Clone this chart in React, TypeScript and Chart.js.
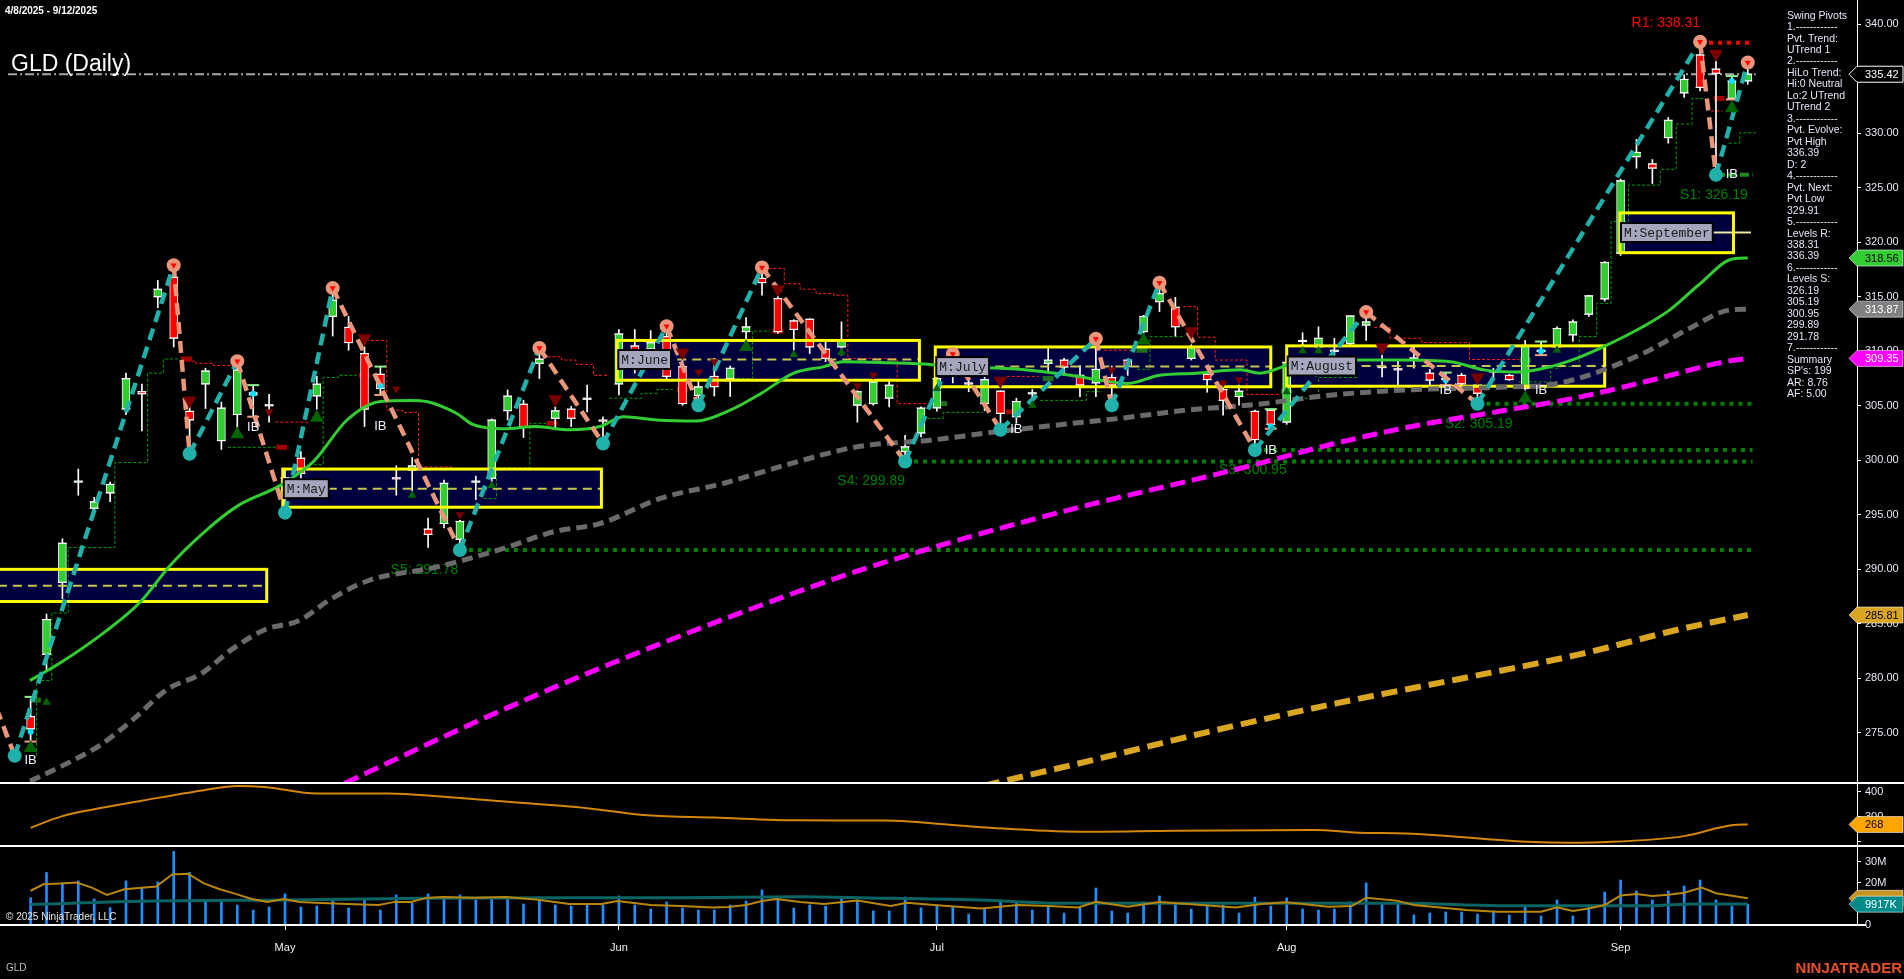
import React, { useEffect, useRef } from 'react';
import { Chart, registerables } from 'chart.js';

Chart.register(...registerables);

const FONT = 'Arial, "Liberation Sans", sans-serif';
const MONO = '"Liberation Mono", "DejaVu Sans Mono", monospace';

// ---------- layout ----------
const W = 1904, H = 979;
const PRICE_H = 783, IND_H = 63, VOL_H = 79, XAXIS_H = 54, YAXIS_W = 47;
const X_MIN = -1.925, X_MAX = 114.87;

// ---------- text ----------
const rangeText = '4/8/2025 - 9/12/2025';
const chartTitle = 'GLD (Daily)';
const monthTickIdx = [16, 37, 57, 79, 100];
const monthTickLabels = ['May', 'Jun', 'Jul', 'Aug', 'Sep'];

// ---------- daily bars (4/8/2025 .. 9/12/2025) ----------
const opens = [276.5, 282.2, 288.8, 298.0, 295.6, 297.0, 304.7, 306.3, 315.0, 316.8,
  304.5, 307.0, 301.8, 304.2, 306.2, 305.1, 297.2, 300.2, 305.9, 313.2,
  312.2, 309.8, 307.9, 298.4, 299.1, 293.7, 294.2, 292.75, 298.0, 298.35,
  304.55, 305.15, 308.9, 303.85, 304.7, 305.6, 303.7, 307.0, 310.5, 310.2,
  311.35, 308.6, 305.95, 307.7, 307.5, 311.8, 316.7, 314.85, 312.8, 312.95,
  310.2, 310.4, 305.05, 305.2, 305.7, 300.8, 302.5, 304.8, 309.0, 307.1,
  305.2, 306.35, 304.0, 306.1, 308.9, 309.2, 307.8, 307.1, 307.6, 309.2,
  311.8, 314.55, 314.05, 309.35, 307.9, 306.5, 305.85, 304.5, 304.6, 303.5,
  310.9, 310.4, 310.0, 310.7, 312.4, 308.6, 308.4, 309.3, 308.0, 307.5,
  307.8, 306.9, 308.1, 307.8, 306.6, 310.1, 310.4, 311.5, 313.4, 314.8,
  319.0, 327.85, 327.2, 329.6, 333.7, 337.2, 335.9, 333.2, 334.8];
const highs = [278.1, 285.9, 292.8, 299.2, 296.6, 298.0, 308.0, 307.0, 316.5, 317.9,
  305.0, 308.45, 305.35, 309.1, 306.9, 306.05, 299.1, 300.8, 307.7, 315.8,
  313.2, 310.4, 308.6, 299.5, 300.25, 294.7, 298.2, 294.5, 298.55, 303.8,
  306.45, 305.5, 310.3, 304.9, 304.95, 306.9, 304.0, 312.0, 312.0, 311.9,
  312.3, 310.1, 307.4, 309.35, 308.65, 313.1, 317.7, 315.6, 312.9, 313.0,
  310.9, 312.7, 306.4, 307.35, 307.35, 302.3, 304.9, 308.2, 309.75, 307.5,
  307.8, 306.4, 305.7, 306.5, 310.4, 309.35, 308.7, 311.15, 308.65, 309.3,
  313.3, 316.3, 314.95, 310.6, 308.0, 306.6, 306.9, 304.6, 304.7, 309.5,
  311.7, 312.25, 311.2, 313.25, 313.6, 309.65, 309.2, 310.4, 308.35, 308.05,
  308.0, 307.0, 308.45, 307.9, 311.0, 310.9, 312.25, 312.9, 315.15, 318.25,
  325.8, 329.45, 327.6, 331.45, 335.35, 338.39, 336.6, 335.25, 336.39];
const lows = [274.25, 280.8, 287.3, 296.8, 295.0, 296.2, 304.2, 302.7, 314.0, 310.4,
  300.6, 304.75, 301.0, 303.0, 304.0, 303.5, 295.2, 297.3, 304.7, 311.4,
  310.1, 303.1, 306.0, 296.8, 297.2, 292.0, 293.8, 291.78, 296.4, 298.0,
  303.7, 302.1, 307.5, 302.8, 303.1, 304.45, 301.55, 306.0, 308.0, 309.6,
  307.5, 305.05, 305.05, 305.9, 305.85, 311.1, 315.15, 311.65, 310.1, 309.8,
  309.05, 309.65, 303.5, 305.05, 304.9, 299.89, 302.15, 304.5, 307.1, 306.3,
  304.55, 302.8, 303.4, 305.4, 308.0, 307.8, 305.85, 305.85, 305.05, 307.8,
  311.65, 313.65, 311.4, 309.2, 306.25, 304.15, 305.05, 300.95, 303.0, 303.3,
  310.4, 310.1, 309.5, 310.6, 311.0, 307.65, 306.9, 308.45, 306.6, 306.9,
  306.9, 305.19, 307.35, 307.35, 306.45, 309.65, 310.1, 310.9, 313.2, 314.6,
  318.8, 326.8, 325.4, 329.1, 333.3, 333.9, 326.19, 333.1, 334.5];
const closes = [275.35, 285.4, 292.4, 298.1, 296.2, 297.8, 307.5, 306.1, 315.7, 311.2,
  303.7, 308.2, 304.8, 308.3, 306.0, 305.0, 298.4, 298.8, 307.0, 314.7,
  310.8, 304.7, 306.6, 298.3, 299.5, 293.2, 297.9, 294.4, 298.1, 303.7,
  305.9, 303.1, 309.3, 304.55, 303.85, 305.7, 303.6, 311.6, 309.7, 310.8,
  307.7, 305.2, 306.75, 306.75, 308.45, 312.25, 316.3, 311.8, 312.0, 310.4,
  309.35, 311.0, 306.3, 307.2, 306.9, 301.25, 304.8, 307.5, 308.2, 307.0,
  307.4, 304.3, 305.4, 306.2, 309.2, 308.55, 306.9, 308.35, 306.9, 308.6,
  313.2, 315.3, 312.25, 310.35, 307.4, 305.5, 306.35, 301.9, 303.3, 309.0,
  311.0, 311.2, 310.1, 313.25, 312.7, 308.5, 308.3, 309.4, 307.35, 307.4,
  307.0, 306.15, 308.2, 307.4, 310.55, 310.0, 312.1, 312.7, 315.1, 318.15,
  325.65, 328.25, 326.8, 331.2, 334.95, 334.2, 335.5, 334.8, 335.42];
const volumesM = [13, 25, 20, 21, 12.4, 8.3, 21, 18, 20.5, 35,
  25, 11, 11, 9.5, 7.1, 8.6, 14.8, 8.6, 9, 11.4,
  8.1, 11.9, 7.1, 14.3, 10.5, 14.8, 13.3, 14.3, 11.9, 12.9,
  13.3, 10, 13.3, 9.5, 9, 9.5, 9.5, 13.8, 9.5, 7.6,
  11, 8.1, 7.1, 7.1, 9.5, 11.4, 16.7, 12.9, 8.1, 9.5,
  9, 12.9, 11.9, 6.7, 6.7, 13.3, 8.1, 9.5, 8.6, 5.2,
  7.6, 11.9, 11, 7.1, 9, 5.7, 8.1, 17.6, 6.7, 5.7,
  11, 13.8, 10.5, 7.6, 9.5, 9.5, 5.7, 13.3, 9, 12.9,
  7.6, 7.1, 7.6, 11, 20, 10.5, 10, 4.8, 5.7, 6.2,
  6.2, 5.2, 6.7, 4.8, 8.6, 4.3, 11.9, 4.3, 9.5, 15.7,
  21.4, 16.2, 11.9, 16.2, 18.6, 21.4, 11.9, 9, 9.9];

// ---------- moving averages, sampled [barIndex, value] ----------
const fastMa = [[-0.04, 279.8], [1.85, 281.4], [4.8, 284.4], [6.9, 287.0], [8.8, 290.4], [10.9, 293.4], [13, 295.8], [15.7, 297.7], [17.8, 299.9], [19.9, 303.7], [22, 305.4], [23.9, 305.5], [24.9, 305.4], [26.8, 304.3], [27.8, 303.3], [29.7, 302.9], [31.8, 303.1], [33.9, 302.8], [35.8, 303.1], [37.3, 304.0], [39.4, 303.7], [41.9, 303.6], [44, 304.6], [45.9, 306.1], [48, 308.0], [49.9, 308.6], [51.1, 309.05], [54, 308.95], [56.6, 308.8], [58, 308.6], [62.2, 308.35], [65.4, 307.8], [67.5, 307.3], [69, 307.05], [71, 307.8], [73.3, 308.0], [76.1, 308.3], [77.3, 308.0], [79.8, 309.05], [83, 309.2], [86.1, 309.2], [89.3, 309.05], [91.4, 308.3], [93.5, 308.1], [95.6, 308.6], [97.4, 309.45], [98.9, 310.4], [101.4, 312.25], [103.1, 313.8], [105, 316.2], [107.1, 318.5], [108, 318.56]];
const ma50 = [[-1.0, 269.9], [0.15, 270.7], [2.3, 272.2], [4.4, 273.9], [6.5, 276.3], [8.6, 279.0], [10.7, 280.4], [12.7, 282.7], [14.8, 284.5], [16.9, 285.3], [18.8, 287.2], [21.3, 289.0], [25.5, 290.2], [29.7, 291.9], [32.9, 293.45], [35.8, 294.2], [39.6, 296.5], [43.6, 297.9], [47.8, 299.7], [52, 301.25], [56.6, 301.85], [60.1, 302.5], [64.3, 303.2], [68.5, 303.85], [72.7, 304.6], [76.9, 305.1], [81.9, 306.0], [87.2, 306.5], [92.4, 306.7], [96.2, 307.1], [101.4, 309.8], [104.2, 312.0], [106.9, 313.8], [108, 313.87]];
const ma100 = [[18.5, 269.5], [19.8, 270.4], [28.6, 276.4], [36.25, 281.2], [43.9, 285.6], [51.5, 289.6], [59.1, 293.0], [66.8, 296.0], [73.4, 298.3], [76.7, 299.5], [81.9, 301.5], [87.2, 303.2], [92.4, 304.5], [97.4, 305.8], [101.8, 307.3], [106.4, 309.0], [108, 309.35]];
const ma200 = [[58.5, 269.6], [60.7, 270.4], [66.8, 272.5], [74.4, 275.2], [82.1, 277.7], [89.7, 279.9], [97.4, 282.2], [104, 284.6], [108, 285.81]];

// ---------- swing pivots ----------
const pivotIdx = [-3, -1, 9, 10, 13, 16, 19, 27, 32, 36, 40, 42, 46, 55, 58, 61, 67, 68, 71, 77, 84, 91, 105, 106, 108];
const pivotPrice = [280.5, 272.9, 317.9, 300.6, 309.1, 295.2, 315.8, 291.78, 310.3, 301.55, 312.3, 305.05, 317.7, 299.89, 309.75, 302.8, 311.15, 305.05, 316.3, 300.95, 313.6, 305.19, 338.39, 326.19, 336.5];

// ---------- trailing stops (step segments) ----------
const longStopSegments = [
  [[0.38, 272.9], [0.38, 279.8], [1.33, 286.0], [2.37, 292.0], [5.3, 299.8], [7.36, 308.0], [8.35, 309.3], [9.4, 309.3]],
  [[12.4, 301.2], [15.6, 301.2]],
  [[17.5, 299.6], [18.4, 307.6], [19.35, 307.8], [20.5, 307.8]],
  [[28.5, 296.5], [29.3, 299.3], [31.4, 303.4], [32.5, 303.4]],
  [[36.4, 305.7], [38.4, 306.15], [39.4, 306.5], [40.4, 306.5]],
  [[44.4, 307.5], [45.4, 311.85], [46.5, 311.85]],
  [[56.4, 303.85], [57.4, 304.4], [59.9, 304.4]],
  [[63.5, 305.5], [66.4, 306.3], [67.4, 306.3]],
  [[69.6, 308.35], [70.4, 311.35], [72.5, 311.35]],
  [[79.5, 305.7], [81, 307.6], [83.5, 307.6]],
  [[93.6, 307.2], [95.6, 308.45], [96.2, 308.6], [97.4, 311.35], [98.5, 314.4], [99.4, 321.9], [100.5, 325.25], [102.5, 326.7], [103.5, 330.85], [104.5, 333.2], [105.2, 333.2]],
  [[106.8, 329.1], [107.5, 330.05], [108.5, 330.05]],
];
const shortStopSegments = [
  [[9.5, 309.1], [10.4, 308.9], [11.5, 308.7], [12.7, 308.7]],
  [[15.4, 303.5], [17.5, 303.5]],
  [[21.1, 311.0], [22.4, 304.6], [23.4, 304.4], [24.4, 299.4], [26.5, 299.4]],
  [[32.2, 309.5], [33.4, 309.2], [34.3, 308.8], [35.4, 307.8], [36.4, 307.8]],
  [[40.2, 310.9], [44.4, 310.9]],
  [[46.4, 317.6], [47.4, 316.2], [48.4, 315.7], [49.4, 315.3], [50.5, 315.15], [51.4, 309.35], [54.5, 305.2], [56.4, 305.2]],
  [[61.4, 307.7], [63.4, 307.7]],
  [[67.5, 310.1], [69.4, 310.1]],
  [[72.5, 314.1], [73.4, 311.3], [74.5, 309.2], [76.5, 306.05], [78.6, 306.05]],
  [[84.5, 312.2], [85.5, 311.2], [87.5, 310.8], [90.5, 309.25], [93.6, 309.25]],
  [[105.7, 332.05], [106.4, 332.05]],
];
const redStopMarkIdx = [9.8, 15.8, 21, 32.8, 41, 47, 61.7, 106.2];
const redStopMarkPrice = [309.3, 301.2, 307.8, 303.4, 306.5, 311.85, 304.45, 333.2];
const greenStopMarkIdx = [0.3, 57.3, 64, 69.9, 79, 94];
const greenStopMarkPrice = [278.0, 305.2, 307.5, 310.1, 306.3, 309.2];

// ---------- support / resistance levels ----------
const supportLevels = [291.78, 299.89, 300.95, 305.19];
const supportStartIdx = [27, 55, 77, 91];
const levelEndIdx = 108.3;
const s1Level = 326.19, s1StartIdx = 106;
const r1Level = 338.31, r1StartIdx = 105;
const levelLabelText = ['S5: 291.78', 'S4: 299.89', 'S3: 300.95', 'S2: 305.19', 'S1: 326.19', 'R1: 338.31'];
const levelLabelPrice = [291.78, 299.89, 300.95, 305.19, 326.19, 338.31];
const levelLabelEndIdx = [26.9, 55, 79, 93.2, 108, 105];
const lastClose = 335.42;
const lastLineStartIdx = -1.42, lastLineEndIdx = 108.5;

// ---------- monthly range boxes ----------
const boxStart = [-3, 15.86, 36.9, 56.9, 79.0, 99.96];
const boxEnd = [14.85, 35.9, 55.9, 78.0, 99.0, 107.1];
const boxHigh = [290.0, 299.2, 311.0, 310.4, 310.5, 322.7];
const boxLow = [287.05, 295.7, 307.35, 306.75, 306.8, 319.05];
const boxMid = [288.5, 297.4, 309.25, 308.6, 308.65, 320.9];
const boxLabels = ['', 'M:May', 'M:June', 'M:July', 'M:August', 'M:September'];
const currentMidEndIdx = 108.2;

// ---------- markers ----------
const upTriIdx = [0, 1, 13, 18, 24, 29, 45, 48, 51, 57, 63, 70, 79, 80, 81, 94, 96, 107];
const upTriPrice = [273.6, 277.8, 302.4, 303.9, 296.8, 297.7, 310.4, 309.7, 309.9, 306.6, 305.05, 311.0, 306.3, 310.05, 310.05, 305.7, 310.1, 332.3];
const upTriBig = [1, 0, 1, 1, 0, 0, 1, 0, 0, 0, 0, 1, 0, 0, 0, 1, 0, 1];
const dnTriIdx = [10, 15, 21, 23, 27, 33, 41, 42, 43, 47, 52, 53, 61, 68, 73, 75, 76, 85, 91, 106];
const dnTriPrice = [305.5, 304.45, 311.2, 306.55, 295.0, 305.6, 309.9, 308.1, 309.05, 315.7, 306.85, 307.8, 307.3, 308.3, 311.85, 307.1, 307.4, 310.35, 307.6, 337.3];
const dnTriBig = [1, 0, 1, 0, 0, 1, 1, 0, 0, 1, 0, 0, 1, 0, 1, 0, 0, 1, 1, 1];
const ibIdx = [0, 14, 22, 62, 78, 89, 95, 107];
const ibPrice = [272.5, 303.05, 303.1, 302.85, 300.95, 306.45, 306.45, 326.2];
const ibMarkIdx = [0, 14, 22, 78, 89, 95, 107];
const ibMarkTop = [278.3, 306.9, 308.6, 304.7, 308.05, 310.9, 335.25];
const ibMarkDot = [275.1, 306.1, 306.85, 303.1, 307.35, 310.0, 334.8];
const ibMarkBottom = [274.2, 304.0, 306.0, 302.9, 306.9, 309.65, 333.1];

// ---------- lower panels ----------
const indicatorPts = [[0, 255], [1.9, 300], [3.85, 328], [7.06, 365], [10.9, 407], [13, 424], [14.7, 420], [18, 393], [22.5, 394], [26, 380], [30.8, 356], [34.3, 339], [38.8, 305], [43, 296], [48.4, 285], [53.7, 284], [59.8, 257], [65.9, 239], [72, 243], [80.8, 246], [83.5, 235], [86.5, 232], [94.1, 198], [96.8, 194], [98.7, 196], [104, 221], [107.1, 266], [108, 268]];
const volFastPts = [[0, 16.3], [0.8, 19.4], [1.9, 19.8], [2.9, 20.2], [3.85, 17.8], [4.8, 14.3], [5.9, 17], [7.9, 18.3], [8.9, 24], [9.9, 24.4], [10.9, 19.8], [11.9, 17], [12.9, 14.8], [13.9, 12.4], [14.9, 11], [15.9, 12.4], [16.9, 11], [17.9, 10.6], [19.9, 10], [21.9, 9.5], [22.9, 11], [23.9, 11], [24.9, 12.9], [25.9, 13.3], [27.9, 13], [29.9, 13.3], [31.9, 12], [33.9, 10], [35.9, 10], [36.9, 11.4], [39, 9.5], [40.9, 9], [42.9, 8.3], [43.9, 8.6], [45, 9.5], [46, 11.4], [46.9, 12.4], [48.4, 11], [49.9, 10], [52, 11.6], [54.1, 9], [55.1, 10.6], [56.8, 9.5], [59.8, 7.9], [62.1, 9.5], [64, 9], [65.9, 8.3], [67, 11.1], [69, 8.7], [71, 11], [73.2, 9.8], [75.8, 8.3], [77.4, 10], [79, 10.8], [81.6, 8.7], [83.1, 9], [84, 13], [85.9, 11.6], [87, 9.5], [90.3, 7.1], [92.2, 6.3], [95, 6.3], [96, 8.4], [97, 6.7], [98, 7.9], [99, 9.5], [100, 14], [101, 14.8], [102, 13.8], [103, 14.4], [104, 15.4], [105.1, 17.8], [106, 15.1], [108, 12.7]];
const volSlowPts = [[0, 9.8], [7.7, 11.4], [16, 11.9], [24.5, 12.7], [34.3, 13], [40.9, 13], [48.4, 13.5], [54.1, 12.7], [59.8, 11.9], [64.6, 10.3], [75.3, 10.3], [86.6, 10.3], [92.3, 9.2], [101.8, 9.2], [104.8, 10], [108, 10]];

// ---------- axis value flags ----------
const priceFlagValues = [335.42, 318.56, 313.87, 309.35, 285.81];
const priceFlagBg = ['#000000', '#32CD32', '#808080', '#FF00FF', '#DAA520'];
const priceFlagFg = ['#FFFFFF', '#000000', '#FFFFFF', '#FFFFFF', '#000000'];
const indicatorFlagValue = 268;
const volFastFlagValue = 12.7;
const volumeFlagValue = 9.917;
const volumeFlagText = '9917K';

// ---------- side panel ----------
const sidePanelLines = ['Swing Pivots', '1.------------', 'Pvt. Trend:', 'UTrend 1', '2.------------', 'HiLo Trend:', 'Hi:0 Neutral', 'Lo:2 UTrend', 'UTrend 2', '3.------------', 'Pvt. Evolve:', 'Pvt High', '336.39', 'D: 2', '4.------------', 'Pvt. Next:', 'Pvt Low', '329.91', '5.------------', 'Levels R:', '338.31', '336.39', '6.------------', 'Levels S:', '326.19', '305.19', '300.95', '299.89', '291.78', '7.------------', 'Summary', "SP's: 199", 'AR: 8.76', 'AF: 5.00'];

// ---------- helpers ----------
const pts = (arr: number[][]) => arr.map(([x, y]) => ({ x, y }));
const pair = (xs: number[], ys: number[]) => xs.map((x, k) => ({ x, y: ys[k] }));
const segPoints = (segs: number[][][]) => {
  const out: any[] = [];
  segs.forEach((seg) => {
    seg.forEach(([x, y]) => out.push({ x, y }));
    out.push({ x: seg[seg.length - 1][0], y: null });
  });
  return out;
};

function clipToPrice(chart: any) {
  const xs = chart.scales.x, ys = chart.scales.yP;
  chart.ctx.beginPath();
  chart.ctx.rect(xs.left, ys.top, xs.right - xs.left, ys.bottom - ys.top);
  chart.ctx.clip();
}

const overlayPlugin = {
  id: 'ntOverlay',
  beforeDraw(chart: any) {
    const ctx = chart.ctx;
    ctx.save();
    ctx.fillStyle = '#000';
    ctx.fillRect(0, 0, chart.width, chart.height);
    ctx.restore();
  },
  beforeDatasetsDraw(chart: any) {
    const ctx = chart.ctx, xs = chart.scales.x, ys = chart.scales.yP;
    ctx.save();
    clipToPrice(chart);
    boxStart.forEach((s, k) => {
      const l = xs.getPixelForValue(s), r = xs.getPixelForValue(boxEnd[k]);
      const t = ys.getPixelForValue(boxHigh[k]), b = ys.getPixelForValue(boxLow[k]);
      ctx.fillStyle = '#00003E';
      ctx.fillRect(l, t, r - l, b - t);
    });
    ctx.font = `14px ${FONT}`;
    ctx.textAlign = 'right';
    ctx.textBaseline = 'middle';
    levelLabelText.forEach((t, k) => {
      const isR = t.startsWith('R');
      const y = ys.getPixelForValue(levelLabelPrice[k]) + (isR ? -20 : 20);
      ctx.fillStyle = isR ? '#FF0000' : '#008000';
      ctx.fillText(t, xs.getPixelForValue(levelLabelEndIdx[k]), y);
    });
    ctx.restore();
  },
  afterDatasetDraw(chart: any, args: any) {
    if (chart.data.datasets[args.index].label !== 'bodyEdges') return;
    const ctx = chart.ctx, xs = chart.scales.x, ys = chart.scales.yP;
    ctx.save();
    clipToPrice(chart);
    boxStart.forEach((s, k) => {
      const l = xs.getPixelForValue(s), r = xs.getPixelForValue(boxEnd[k]);
      const t = ys.getPixelForValue(boxHigh[k]), b = ys.getPixelForValue(boxLow[k]);
      const m = ys.getPixelForValue(boxMid[k]);
      const current = k === boxStart.length - 1;
      ctx.lineWidth = 2;
      ctx.setLineDash(current ? [] : [9, 6]);
      ctx.strokeStyle = current ? '#EEE8AA' : '#C8C450';
      ctx.beginPath();
      ctx.moveTo(l, m);
      ctx.lineTo(current ? xs.getPixelForValue(currentMidEndIdx) : r, m);
      ctx.stroke();
      ctx.setLineDash([]);
      ctx.strokeStyle = '#FFFF00';
      ctx.lineWidth = 3;
      ctx.strokeRect(l, t, r - l, b - t);
    });
    ctx.restore();
  },
  afterDatasetsDraw(chart: any) {
    const ctx = chart.ctx, xs = chart.scales.x, ys = chart.scales.yP;
    ctx.save();
    clipToPrice(chart);
    ctx.font = `13px ${FONT}`;
    ctx.fillStyle = '#F0F0FF';
    ctx.textAlign = 'center';
    ctx.textBaseline = 'middle';
    ibIdx.forEach((i, k) => ctx.fillText('IB', xs.getPixelForValue(i), ys.getPixelForValue(ibPrice[k])));
    ctx.font = `13px ${MONO}`;
    boxLabels.forEach((txt, k) => {
      if (!txt) return;
      const l = xs.getPixelForValue(boxStart[k]) + 1;
      const m = ys.getPixelForValue(boxMid[k]);
      const w = ctx.measureText(txt).width + 6, h = 19;
      ctx.fillStyle = '#A6A6BE';
      ctx.fillRect(l, m - h / 2, w, h);
      ctx.strokeStyle = '#000';
      ctx.lineWidth = 2;
      ctx.strokeRect(l, m - h / 2, w, h);
      ctx.fillStyle = '#1C1C1C';
      ctx.textAlign = 'left';
      ctx.fillText(txt, l + 3, m + 1);
    });
    ctx.restore();

    ctx.save();
    ctx.font = `10.5px ${FONT}`;
    ctx.fillStyle = '#E6E6F8';
    ctx.textAlign = 'left';
    ctx.textBaseline = 'middle';
    const sx = xs.right - 70;
    sidePanelLines.forEach((t, i) => ctx.fillText(t, sx, 15.7 + i * 11.47));
    ctx.font = `bold 10px ${FONT}`;
    ctx.fillStyle = '#FFFFFF';
    ctx.fillText(rangeText, 5, 11.5);
    ctx.font = `23px ${FONT}`;
    ctx.textBaseline = 'alphabetic';
    ctx.fillText(chartTitle, 11, 71);
    ctx.restore();
  },
  afterDraw(chart: any) {
    const ctx = chart.ctx, yP = chart.scales.yP, yI = chart.scales.yI, yV = chart.scales.yV;
    ctx.save();
    ctx.strokeStyle = '#FFFFFF';
    ctx.lineWidth = 2;
    ctx.beginPath();
    ctx.moveTo(0, yI.top); ctx.lineTo(chart.width, yI.top);
    ctx.moveTo(0, yV.top); ctx.lineTo(chart.width, yV.top);
    ctx.moveTo(0, yV.bottom); ctx.lineTo(yV.left + 9, yV.bottom);
    ctx.stroke();
    const flag = (scale: any, value: number, text: string, bg: string, fg: string, border?: string) => {
      const y = scale.getPixelForValue(value);
      const left = scale.left, tip = left - 8, right = chart.width - 1, h = 16;
      ctx.beginPath();
      ctx.moveTo(tip, y);
      ctx.lineTo(left, y - h / 2);
      ctx.lineTo(right, y - h / 2);
      ctx.lineTo(right, y + h / 2);
      ctx.lineTo(left, y + h / 2);
      ctx.closePath();
      ctx.fillStyle = bg;
      ctx.fill();
      ctx.strokeStyle = border || 'rgba(255,255,255,0.55)';
      ctx.lineWidth = 1;
      ctx.stroke();
      ctx.fillStyle = fg;
      ctx.font = `11px ${FONT}`;
      ctx.textAlign = 'left';
      ctx.textBaseline = 'middle';
      if (text) ctx.fillText(text, left + 8, y + 0.5);
    };
    priceFlagValues.forEach((v, k) => flag(yP, v, v.toFixed(2), priceFlagBg[k], priceFlagFg[k], k === 0 ? '#FFFFFF' : undefined));
    flag(yI, indicatorFlagValue, String(indicatorFlagValue), '#FFA500', '#000000');
    flag(yV, volFastFlagValue, '', '#C8961E', '#000000');
    flag(yV, volumeFlagValue, volumeFlagText, '#008B8B', '#FFFFFF');
    ctx.font = `10px ${FONT}`;
    ctx.fillStyle = '#E6E6E6';
    ctx.textAlign = 'left';
    ctx.textBaseline = 'middle';
    ctx.fillText('\u00A9 2025 NinjaTrader, LLC', 6, yV.bottom - 8);
    ctx.fillStyle = '#BDBDBD';
    ctx.fillText('GLD', 6, 968);
    ctx.font = `bold 15px ${FONT}`;
    ctx.fillStyle = '#E8502A';
    ctx.textAlign = 'right';
    ctx.fillText('NINJATRADER', chart.width - 2, 969);
    ctx.restore();
  },
};

function buildConfig(): any {
  const idx = closes.map((_, i) => i);
  const bodyColors = idx.map((i) => (closes[i] >= opens[i] ? '#32CD32' : '#FF0000'));

  const upLegs: any[] = [], downLegs: any[] = [];
  for (let k = 0; k < pivotIdx.length - 1; k++) {
    const target = pivotPrice[k + 1] > pivotPrice[k] ? upLegs : downLegs;
    target.push({ x: pivotIdx[k], y: pivotPrice[k] }, { x: pivotIdx[k + 1], y: pivotPrice[k + 1] }, { x: pivotIdx[k + 1], y: null });
  }
  const highPts: any[] = [], lowPts: any[] = [];
  for (let k = 1; k < pivotIdx.length; k++) {
    (pivotPrice[k] > pivotPrice[k - 1] ? highPts : lowPts).push({ x: pivotIdx[k], y: pivotPrice[k] });
  }
  const supportPts: any[] = [];
  supportLevels.forEach((lv, k) => {
    supportPts.push({ x: supportStartIdx[k], y: lv }, { x: levelEndIdx, y: lv }, { x: levelEndIdx, y: null });
  });

  const line = (extra: any) => ({ type: 'line', pointRadius: 0, fill: false, yAxisID: 'yP', ...extra });
  const marks = (extra: any) => ({ type: 'scatter', yAxisID: 'yP', pointBorderWidth: 0, ...extra });

  const datasets: any[] = [
    line({ label: 'last', order: 100, data: [{ x: lastLineStartIdx, y: lastClose }, { x: lastLineEndIdx, y: lastClose }], borderColor: '#A8A8A8', borderWidth: 2, borderDash: [9, 3, 2, 3] }),
    line({ label: 'longStop', order: 95, data: segPoints(longStopSegments), stepped: true, borderColor: '#00A000', borderWidth: 1, borderDash: [3, 2] }),
    line({ label: 'shortStop', order: 95, data: segPoints(shortStopSegments), stepped: true, borderColor: '#FF1A1A', borderWidth: 1, borderDash: [3, 2] }),
    marks({ label: 'redStopMarks', order: 94, data: pair(redStopMarkIdx, redStopMarkPrice), pointStyle: 'line', pointRadius: 5.5, pointBorderWidth: 5, pointBorderColor: '#A00000' }),
    marks({ label: 'greenStopMarks', order: 94, data: pair(greenStopMarkIdx, greenStopMarkPrice), pointStyle: 'line', pointRadius: 5.5, pointBorderWidth: 5, pointBorderColor: '#1E6E1E' }),
    line({ label: 'supports', order: 90, data: supportPts, borderColor: '#008000', borderWidth: 4, borderDash: [4, 5], borderCapStyle: 'butt' }),
    line({ label: 's1', order: 90, data: [{ x: s1StartIdx, y: s1Level }, { x: levelEndIdx, y: s1Level }], borderColor: '#1E8B1E', borderWidth: 4, borderDash: [9, 3] }),
    line({ label: 'r1', order: 90, data: [{ x: r1StartIdx, y: r1Level }, { x: levelEndIdx, y: r1Level }], borderColor: '#FF0000', borderWidth: 4, borderDash: [4, 5] }),
    { type: 'bar', label: 'wicks', order: 80, yAxisID: 'yP', grouped: false, barThickness: 1, backgroundColor: '#FFFFFF', data: idx.map((i) => ({ x: i, y: [lows[i], highs[i]] })) },
    { type: 'bar', label: 'bodies', order: 79, yAxisID: 'yP', grouped: false, barThickness: 8, borderSkipped: false, borderWidth: 1, borderColor: '#FFFFFF', backgroundColor: bodyColors, data: idx.map((i) => ({ x: i, y: [opens[i], closes[i]] })) },
    { type: 'scatter', label: 'bodyEdges', order: 78, yAxisID: 'yP', pointStyle: 'line', pointRadius: 4.5, pointBorderWidth: 1, pointBorderColor: '#FFFFFF', data: idx.flatMap((i) => [{ x: i, y: opens[i] }, { x: i, y: closes[i] }]) },
    marks({ label: 'ibTop', order: 77, data: pair(ibMarkIdx, ibMarkTop), pointStyle: 'line', pointRadius: 6, pointBorderWidth: 2, pointBorderColor: '#90EE90' }),
    marks({ label: 'ibBottom', order: 77, data: pair(ibMarkIdx, ibMarkBottom), pointStyle: 'line', pointRadius: 6, pointBorderWidth: 2, pointBorderColor: '#F0A080' }),
    marks({ label: 'ibDot', order: 76, data: pair(ibMarkIdx, ibMarkDot), pointRadius: 3, pointBackgroundColor: '#00E5FF' }),
    line({ label: 'ma200', order: 70, data: pts(ma200), borderColor: '#DAA520', borderWidth: 6, borderDash: [16, 8], cubicInterpolationMode: 'monotone' }),
    line({ label: 'ma100', order: 69, data: pts(ma100), borderColor: '#FF00FF', borderWidth: 5, borderDash: [15, 7], cubicInterpolationMode: 'monotone' }),
    line({ label: 'ma50', order: 68, data: pts(ma50), borderColor: '#6A6A6A', borderWidth: 5, borderDash: [11, 6], cubicInterpolationMode: 'monotone' }),
    line({ label: 'fast', order: 67, data: pts(fastMa), borderColor: '#32CD32', borderWidth: 3, cubicInterpolationMode: 'monotone' }),
    line({ label: 'down', order: 60, data: downLegs, borderColor: '#E9967A', borderWidth: 4.5, borderDash: [12, 7] }),
    line({ label: 'up', order: 59, data: upLegs, borderColor: '#20B2AA', borderWidth: 4.5, borderDash: [12, 7] }),
    marks({ label: 'lows', order: 50, data: lowPts, pointRadius: 7, pointBackgroundColor: '#20B2AA' }),
    marks({ label: 'highs', order: 49, data: highPts, pointRadius: 7, pointBackgroundColor: '#E9967A' }),
    marks({ label: 'highMarks', order: 48, data: highPts, pointStyle: 'triangle', pointRotation: 180, pointRadius: 3.5, pointBackgroundColor: '#FF0000' }),
    marks({ label: 'upTri', order: 45, data: pair(upTriIdx, upTriPrice), pointStyle: 'triangle', pointRadius: upTriBig.map((b) => (b ? 8 : 5)), pointBackgroundColor: '#006400' }),
    marks({ label: 'dnTri', order: 44, data: pair(dnTriIdx, dnTriPrice), pointStyle: 'triangle', pointRotation: 180, pointRadius: dnTriBig.map((b) => (b ? 8 : 5)), pointBackgroundColor: '#7A0000' }),
    { type: 'line', label: 'indicator', order: 10, yAxisID: 'yI', data: pts(indicatorPts), borderColor: '#D4860B', borderWidth: 2, pointRadius: 0, cubicInterpolationMode: 'monotone' },
    { type: 'bar', label: 'volume', order: 12, yAxisID: 'yV', grouped: false, barThickness: 2, backgroundColor: '#1E90FF', data: idx.map((i) => ({ x: i, y: volumesM[i] })) },
    { type: 'line', label: 'volSlow', order: 11, yAxisID: 'yV', data: pts(volSlowPts), borderColor: '#0B6464', borderWidth: 3, pointRadius: 0, cubicInterpolationMode: 'monotone' },
    { type: 'line', label: 'volFast', order: 9, yAxisID: 'yV', data: pts(volFastPts), borderColor: '#B8860B', borderWidth: 2, pointRadius: 0 },
  ];

  const fitY = (s: any) => { s.width = YAXIS_W; s.paddingTop = 0; s.paddingBottom = 0; };
  const yCommon = (extra: any) => ({
    type: 'linear', position: 'right', stack: 'panes', afterFit: fitY,
    grid: { display: true, drawOnChartArea: false, drawTicks: true, tickLength: 4, color: '#FFFFFF' },
    border: { display: true, color: '#FFFFFF', width: 1 },
    ...extra,
  });
  const tickFont = { family: FONT, size: 11 };

  return {
    type: 'line',
    data: { datasets },
    plugins: [overlayPlugin],
    options: {
      responsive: false,
      devicePixelRatio: 1,
      animation: false,
      events: [],
      layout: { padding: 0, autoPadding: false },
      plugins: { legend: { display: false }, tooltip: { enabled: false }, title: { display: false } },
      elements: { line: { tension: 0 } },
      spanGaps: false,
      scales: {
        x: {
          type: 'linear', position: 'bottom', min: X_MIN, max: X_MAX, offset: false,
          afterBuildTicks: (s: any) => { s.ticks = monthTickIdx.map((v) => ({ value: v })); },
          afterFit: (s: any) => { s.height = XAXIS_H; s.paddingLeft = 0; s.paddingRight = 0; },
          ticks: { autoSkip: false, maxRotation: 0, color: '#F0F0F0', font: tickFont, padding: 11, callback: (v: any) => monthTickLabels[monthTickIdx.indexOf(Number(v))] ?? '' },
          grid: { display: true, drawOnChartArea: false, tickLength: 5, color: '#FFFFFF', offset: false },
          border: { display: true, color: '#FFFFFF', width: 1 },
        },
        yP: yCommon({
          stackWeight: PRICE_H, min: 270.4, max: 342.23,
          ticks: { stepSize: 5, includeBounds: false, autoSkip: false, color: '#E6E6F5', font: tickFont, padding: 4, callback: (v: any) => Number(v).toFixed(2) },
        }),
        yI: yCommon({
          stackWeight: IND_H, min: 181, max: 436,
          ticks: { stepSize: 100, includeBounds: false, autoSkip: false, color: '#E6E6F5', font: tickFont, padding: 4, callback: (v: any) => (Number(v) === 200 ? '' : String(v)) },
        }),
        yV: yCommon({
          stackWeight: VOL_H, min: 0, max: 37.6,
          ticks: { stepSize: 10, includeBounds: false, autoSkip: false, color: '#E6E6F5', font: tickFont, padding: 4, callback: (v: any) => (Number(v) === 0 ? '0' : `${v}M`) },
        }),
      },
    },
  };
}

export default function App() {
  const ref = useRef<HTMLCanvasElement | null>(null);
  useEffect(() => {
    if (!ref.current) return;
    const chart = new Chart(ref.current, buildConfig());
    return () => chart.destroy();
  }, []);
  return (
    <div style={{ position: 'absolute', left: 0, top: 0, width: W, height: H, background: '#000', overflow: 'hidden' }}>
      <canvas ref={ref} width={W} height={H} style={{ display: 'block', width: W, height: H }} />
    </div>
  );
}
